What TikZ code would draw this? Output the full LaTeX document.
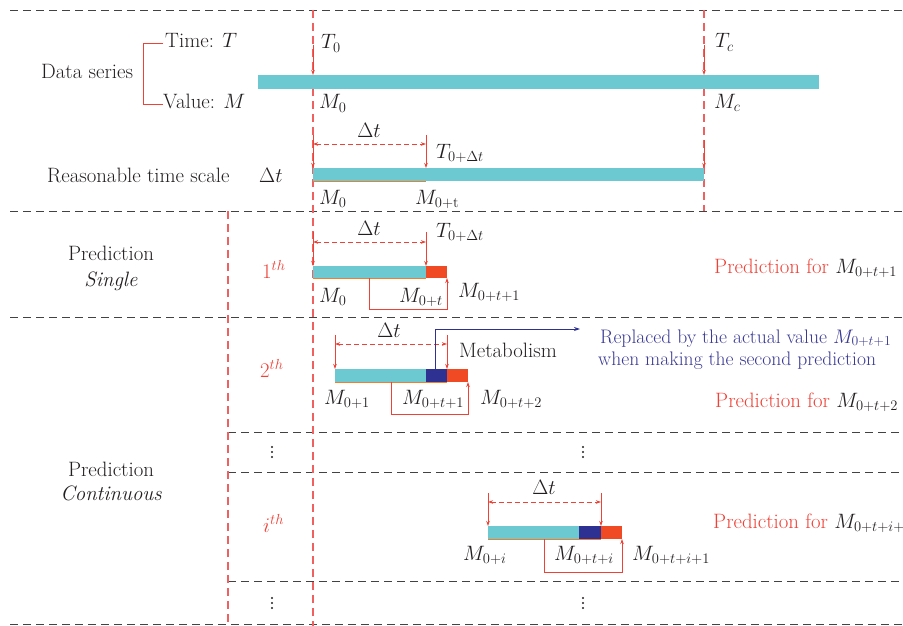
\RequirePackage{fix-cm}
\documentclass[tikz,border=0pt]{standalone}
\usetikzlibrary{arrows.meta}
\definecolor{tealc}{HTML}{6DC9D1}
\definecolor{redbar}{HTML}{F04A24}
\definecolor{bluebar}{HTML}{2E3192}
\definecolor{redln}{HTML}{EF4136}
\definecolor{reddash}{HTML}{F06060}
\definecolor{redtxt}{HTML}{EF4136}
\definecolor{bluetxt}{HTML}{3A3A96}
\definecolor{orangeln}{HTML}{EE7F2D}
\definecolor{txt}{HTML}{231F20}
\begin{document}
\begin{tikzpicture}[x=1pt,y=-1pt,
  font=\fontsize{20.8}{24}\selectfont,
  hsep/.style={draw=txt!85, line width=0.9pt, dash pattern=on 8pt off 5pt},
  vsep/.style={draw=reddash, line width=1.2pt, dash pattern=on 8pt off 5pt},
  varr/.style={draw=redln, line width=0.8pt, -{Stealth[length=5pt,width=3.5pt]}},
  dtarr/.style={draw=redln, line width=0.8pt, dash pattern=on 5pt off 3pt,
     {Stealth[length=5pt,width=3.5pt]}-{Stealth[length=5pt,width=3.5pt]}},
  fb/.style={draw=redln, line width=0.9pt, -{Stealth[length=5pt,width=3.5pt]}},
  bl/.style={draw=bluebar, line width=0.9pt, -{Stealth[length=6pt,width=4pt]}},
  uline/.style={draw=orangeln, line width=1pt},
  lab/.style={inner sep=0pt, anchor=base west, text=txt},
  clab/.style={inner sep=0pt, anchor=base, text=txt},
  rlab/.style={inner sep=0pt, anchor=base west, text=redtxt},
  blab/.style={inner sep=0pt, anchor=base west, text=bluetxt, font=\fontsize{19.6}{23}\selectfont},
  dot/.style={fill=txt, circle, inner sep=0pt, minimum size=2.3pt}
]
\useasboundingbox (0,0) rectangle (903,626);

% horizontal separators
\draw[hsep] (10,10) -- (903,10);
\draw[hsep] (10,211) -- (903,211);
\draw[hsep] (10,317) -- (903,317);
\draw[hsep] (228,432) -- (903,432);
\draw[hsep] (228,472) -- (903,472);
\draw[hsep] (228,581) -- (903,581);
\draw[hsep] (10,624) -- (903,624);

% vertical red dashed
\draw[vsep] (313,10) -- (313,626);
\draw[vsep] (704,10) -- (704,211);
\draw[vsep] (228,211) -- (228,626);

% ---------- Data series ----------
\node[lab] (ds) at (41,78) {Data series};
\node[lab] (time) at (165,48) {Time: $T$};
\node[lab] (value) at (163,109) {Value: $M$};
\coordinate (bt) at (163,43);
\coordinate (bb) at (163,104);
\draw[redln, line width=0.9pt] (bt) -- (143,43) -- (143,104) -- (bb);

\fill[tealc] (258,75) rectangle (819,89);
\coordinate (a1s) at (313,45); \coordinate (a1e) at (313,75);
\coordinate (a2s) at (704,45); \coordinate (a2e) at (704,75);
\draw[varr] (a1s) -- (a1e);
\draw[varr] (a2s) -- (a2e);
\node[lab] (T0) at (321,49) {$T_0$};
\node[lab] (M0a) at (319,109) {$M_0$};
\node[lab] (Tc) at (715,48) {$T_c$};
\node[lab] (Mc) at (714,108) {$M_c$};

% ---------- Reasonable time scale ----------
\node[lab] (rts) at (47,182) {Reasonable time scale};
\node[lab] (dtl) at (259,182) {$\Delta t$};
\fill[tealc] (313,168) rectangle (704,181);
\draw[uline] (313,181) -- (426,181);
\coordinate (b1s) at (313,135); \coordinate (b1e) at (313,168);
\coordinate (b2s) at (426,135); \coordinate (b2e) at (426,168);
\coordinate (b3s) at (704,140); \coordinate (b3e) at (704,168);
\draw[varr] (b1s) -- (b1e);
\draw[varr] (b2s) -- (b2e);
\draw[varr] (b3s) -- (b3e);
\coordinate (d1a) at (313,144); \coordinate (d1b) at (426,144);
\draw[dtarr] (d1a) -- (d1b);
\node[clab] (dt1) at (369,137) {$\Delta t$};
\node[lab] (T0d1) at (436,158) {$T_{0+\Delta t}$};
\node[lab] (M0b) at (319,204) {$M_0$};
\node[lab] (M0t) at (415,204) {$M_{0+\mathrm{t}}$};

% ---------- Prediction single ----------
\node[clab] (ps1) at (111,260) {Prediction};
\node[clab] (ps2) at (111,286) {\itshape Single};
\node[rlab] (th1) at (262,278) {$1^{th}$};
\coordinate (c1s) at (313,232); \coordinate (c1e) at (313,266);
\coordinate (c2s) at (426,232); \coordinate (c2e) at (426,266);
\draw[varr] (c1s) -- (c1e);
\draw[varr] (c2s) -- (c2e);
\coordinate (d2a) at (313,242); \coordinate (d2b) at (426,242);
\draw[dtarr] (d2a) -- (d2b);
\node[clab] (dt2) at (369,235) {$\Delta t$};
\node[lab] (T0d2) at (436,237) {$T_{0+\Delta t}$};
\fill[tealc] (313,266) rectangle (426,278);
\fill[redbar] (426,266) rectangle (447,278);
\draw[uline] (313,278) -- (426,278);
\coordinate (f1a) at (369,278); \coordinate (f1b) at (447,278);
\draw[fb] (f1a) -- (369,309) -- (447,309) -- (f1b);
\node[lab] (M0c) at (319,302) {$M_0$};
\node[lab] (M0tc) at (399,302) {$M_{0+t}$};
\node[lab] (M0t1c) at (458,297) {$M_{0+t+1}$};
\node[rlab] (pf1) at (714,273) {Prediction for \textcolor{txt}{$M_{0+t+1}$}};

% ---------- 2nd ----------
\node[rlab] (th2) at (260,377) {$2^{th}$};
\coordinate (e1s) at (335,335); \coordinate (e1e) at (335,369);
\coordinate (e2s) at (447,335); \coordinate (e2e) at (447,369);
\draw[varr] (e1s) -- (e1e);
\draw[varr] (e2s) -- (e2e);
\coordinate (d3a) at (335,344); \coordinate (d3b) at (447,344);
\draw[dtarr] (d3a) -- (d3b);
\node[clab] (dt3) at (389,337) {$\Delta t$};
\fill[tealc] (335,369) rectangle (426,382);
\fill[bluebar] (426,369) rectangle (447,382);
\fill[redbar] (447,369) rectangle (468,382);
\draw[uline] (335,382) -- (447,382);
\coordinate (g1a) at (435,369); \coordinate (g1b) at (580,329);
\draw[bl] (g1a) -- (435,329) -- (g1b);
\node[lab] (meta) at (459,357) {Metabolism};
\coordinate (f2a) at (391,382); \coordinate (f2b) at (468,382);
\draw[fb] (f2a) -- (391,414) -- (468,414) -- (f2b);
\node[lab] (M01) at (324,404) {$M_{0+1}$};
\node[lab] (M0t1d) at (402,404) {$M_{0+t+1}$};
\node[lab] (M0t2d) at (480,404) {$M_{0+t+2}$};
\node[blab] (rep1) at (600,343) {Replaced by the actual value $M_{0+t+1}$};
\node[blab] (rep2) at (598,365) {when making the second prediction};
\node[rlab] (pf2) at (715,407) {Prediction for \textcolor{txt}{$M_{0+t+2}$}};

% ---------- dots ----------
\foreach \n/\x/\y in {v1/272/452, v2/583/452, v3/272/603, v4/583/603}{
  \node[dot] (\n a) at (\x,\y-5) {};
  \node[dot] (\n b) at (\x,\y) {};
  \node[dot] (\n c) at (\x,\y+5) {};
}

% ---------- Prediction continuous ----------
\node[clab] (pc1) at (111,476) {Prediction};
\node[clab] (pc2) at (111,500) {\itshape Continuous};
\node[rlab] (thi) at (263,532) {$i^{th}$};
\coordinate (h1s) at (488,493); \coordinate (h1e) at (488,526);
\coordinate (h2s) at (601,493); \coordinate (h2e) at (601,526);
\draw[varr] (h1s) -- (h1e);
\draw[varr] (h2s) -- (h2e);
\coordinate (d4a) at (488,502); \coordinate (d4b) at (601,502);
\draw[dtarr] (d4a) -- (d4b);
\node[clab] (dt4) at (544,494) {$\Delta t$};
\fill[tealc] (488,526) rectangle (579,539);
\fill[bluebar] (579,526) rectangle (601,539);
\fill[redbar] (601,526) rectangle (622,539);
\draw[uline] (488,539) -- (601,539);
\coordinate (f3a) at (544,539); \coordinate (f3b) at (622,539);
\draw[fb] (f3a) -- (544,572) -- (622,572) -- (f3b);
\node[lab] (M0i) at (463,560) {$M_{0+i}$};
\node[lab] (M0ti) at (554,560) {$M_{0+t+i}$};
\node[lab] (M0ti1) at (632,560) {$M_{0+t+i+1}$};
\node[rlab] (pf3) at (713,528) {Prediction for \textcolor{txt}{$M_{0+t+i+1}$}};
\end{tikzpicture}
\end{document}
